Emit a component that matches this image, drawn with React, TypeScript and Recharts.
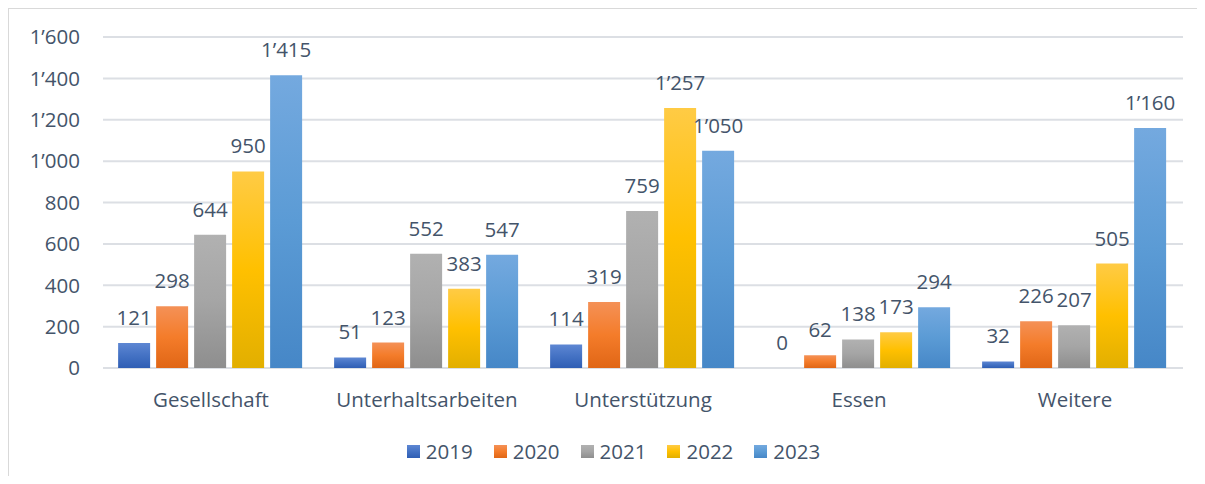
import { BarChart, Bar, XAxis, YAxis, CartesianGrid, Legend, LabelList } from "recharts";

const CATEGORIES = ["Gesellschaft", "Unterhaltsarbeiten", "Unterstützung", "Essen", "Weitere"];
const YEARS = ["2019", "2020", "2021", "2022", "2023"];
const V2019 = [121, 51, 114, 0, 32];
const V2020 = [298, 123, 319, 62, 226];
const V2021 = [644, 552, 759, 138, 207];
const V2022 = [950, 383, 1257, 173, 505];
const V2023 = [1415, 547, 1050, 294, 1160];
const Y_TICKS = [0, 200, 400, 600, 800, 1000, 1200, 1400, 1600];

const SERIES = [V2019, V2020, V2021, V2022, V2023];

// top / middle / bottom of each bar gradient
const GRADIENTS = [
  ["#5E87D3", "#4472C4", "#2F5EB4"],
  ["#F49157", "#F47C2A", "#E06616"],
  ["#B1B1B1", "#A5A5A5", "#8E8E8E"],
  ["#FFCB45", "#FFC000", "#E2AF00"],
  ["#74A9DF", "#5B9BD5", "#4687C7"],
];

const TEXT = "#44546A";
const FONT = "'Open Sans', sans-serif";
const FS = 20.5;

const data = CATEGORIES.map((name, i) => {
  const row: Record<string, string | number> = { name };
  YEARS.forEach((y, j) => {
    row[y] = SERIES[j][i];
  });
  return row;
});

const fmt = (v: number) => String(v).replace(/\B(?=(\d{3})+(?!\d))/g, "\u2019");

// zero bars still need a rectangle so the "0" label shows
const minSize = (v: number) => (v === 0 ? 0.01 : 0);

function LegendBox() {
  return (
    <div
      style={{
        display: "flex",
        justifyContent: "center",
        height: 24,
        lineHeight: "24px",
        fontFamily: FONT,
        fontSize: FS,
        color: TEXT,
        paddingLeft: 56,
      }}
    >
      {YEARS.map((y, i) => (
        <div key={y} style={{ display: "flex", alignItems: "center", marginRight: 21 }}>
          <div
            style={{
              width: 13,
              height: 13,
              marginRight: 6,
              background: `linear-gradient(${GRADIENTS[i][0]}, ${GRADIENTS[i][1]}, ${GRADIENTS[i][2]})`,
            }}
          />
          <span>{y}</span>
        </div>
      ))}
    </div>
  );
}

// value label drawn above each bar
function BarLabel(props: any) {
  const { x, y, width, height, value } = props;
  if (value == null) return null;
  const top = Math.min(y, y + (height || 0));
  return (
    <text
      x={x + width / 2}
      y={top - 18}
      textAnchor="middle"
      fill={TEXT}
      fontSize={FS}
      fontFamily={FONT}
    >
      {fmt(value)}
    </text>
  );
}

export default function App() {
  return (
    <div
      style={{
        width: 1189,
        height: 476,
        marginBottom: -8,
        borderLeft: "1px solid #D9D9D9",
        borderTop: "1px solid #D9D9D9",
        boxSizing: "border-box",
        background: "#fff",
      }}
    >
      <BarChart
        width={1188}
        height={470}
        data={data}
        margin={{ top: 28, right: 14, left: 0, bottom: 16 }}
        barCategoryGap="7%"
        barGap={6}
      >
        <defs>
          {GRADIENTS.map((g, i) => (
            <linearGradient key={i} id={`grad${i}`} x1="0" y1="0" x2="0" y2="1">
              <stop offset="0%" stopColor={g[0]} />
              <stop offset="50%" stopColor={g[1]} />
              <stop offset="100%" stopColor={g[2]} />
            </linearGradient>
          ))}
        </defs>
        <CartesianGrid vertical={false} stroke="#DCDFE4" strokeWidth={2} />
        <XAxis
          dataKey="name"
          axisLine={false}
          tickLine={false}
          tickSize={0}
          tickMargin={24}
          height={71}
          tick={{ fill: TEXT, fontSize: FS, fontFamily: FONT }}
        />
        <YAxis
          domain={[0, 1600]}
          ticks={Y_TICKS}
          axisLine={false}
          tickLine={false}
          tickSize={0}
          tickMargin={23}
          width={94}
          tickFormatter={fmt}
          tick={{ fill: TEXT, fontSize: FS, fontFamily: FONT }}
        />
        <Legend verticalAlign="bottom" content={() => <LegendBox />} />
        {YEARS.map((y, i) => (
          <Bar
            key={y}
            dataKey={y}
            fill={`url(#grad${i})`}
            minPointSize={minSize}
            isAnimationActive={false}
          >
            <LabelList dataKey={y} content={<BarLabel />} />
          </Bar>
        ))}
      </BarChart>
    </div>
  );
}
